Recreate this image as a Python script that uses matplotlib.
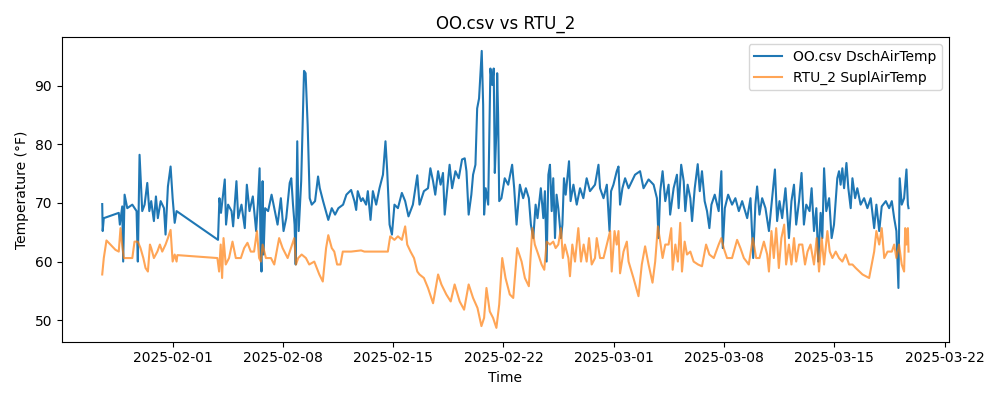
import numpy as np
import pandas as pd
import matplotlib
matplotlib.use("Agg")
import matplotlib.pyplot as plt

# days after 2025-02-01 00:00, temperature in F
base = pd.Timestamp("2025-02-01")

oo_day = [-4.47, -4.44, -4.37, -3.42, -3.35, -3.20, -3.14, -3.05, -2.88, -2.56,
          -2.29, -2.21, -2.10, -1.93, -1.78, -1.61, -1.48, -1.36, -1.19, -1.06,
          -0.94, -0.76, -0.55, -0.45, -0.30, -0.13, 0.00, 0.13, 0.25,
          2.88, 2.97, 3.07, 3.31, 3.39, 3.52, 3.74, 3.84, 4.05, 4.16,
          4.37, 4.58, 4.71, 4.88, 5.09, 5.30, 5.41, 5.52, 5.58, 5.64,
          5.71, 5.77, 5.87, 6.06, 6.28, 6.49, 6.66, 6.87, 7.04, 7.21,
          7.43, 7.53, 7.64, 7.74, 7.81, 7.91, 8.00, 8.16, 8.34, 8.44,
          8.57, 8.70, 8.83, 9.04, 9.23, 9.34, 9.55, 9.76, 9.88, 10.10,
          10.31, 10.52, 10.82, 11.03, 11.33, 11.54, 11.65, 11.75, 11.96,
          12.07, 12.28, 12.39, 12.56, 12.71, 12.92, 13.13, 13.35, 13.51, 13.62,
          13.77, 13.92, 14.08, 14.30, 14.55, 14.76, 14.97, 15.25, 15.53, 15.67,
          15.95, 16.21, 16.36, 16.53, 16.67, 16.85, 17.01, 17.16, 17.27, 17.48,
          17.58, 17.74, 17.95, 18.16, 18.37, 18.54, 18.65, 18.79, 18.96, 19.07,
          19.22, 19.33, 19.45, 19.56, 19.62, 19.71, 19.77, 19.87, 20.03, 20.17,
          20.28, 20.38, 20.45, 20.55, 20.60, 20.66, 20.73, 20.87, 21.08, 21.30,
          21.55, 21.68, 21.83, 22.04, 22.25, 22.42, 22.61, 22.74, 22.89, 23.04,
          23.16, 23.37, 23.53, 23.63, 23.74, 23.85, 23.95, 24.06, 24.16, 24.27,
          24.37, 24.48, 24.65, 24.74, 24.84, 24.95, 25.16, 25.26, 25.44, 25.65,
          25.86, 26.07, 26.28, 26.49, 26.81, 27.03, 27.13, 27.35, 27.56, 27.73,
          27.83, 27.98, 28.19, 28.30, 28.40, 28.55, 28.72, 28.94, 29.35, 29.67,
          29.89, 30.21, 30.53, 30.74, 30.84, 30.95, 31.10, 31.27, 31.48, 31.58,
          31.80, 32.01, 32.12, 32.28, 32.44, 32.54, 32.69, 32.86, 32.97, 33.14,
          33.33, 33.46, 33.60, 33.77, 33.92, 34.07, 34.20, 34.41, 34.66, 34.83,
          34.92, 35.05, 35.26, 35.51, 35.72, 35.94, 36.15, 36.47, 36.68, 36.85,
          36.99, 37.10, 37.25, 37.42, 37.63, 37.85, 38.01, 38.23, 38.37, 38.52,
          38.69, 38.90, 39.12, 39.28, 39.44, 39.58, 39.76, 39.92, 40.07, 40.22,
          40.43, 40.56, 40.71, 40.86, 40.98, 41.13, 41.24, 41.35, 41.49, 41.67,
          41.83, 41.98, 42.19, 42.30, 42.40, 42.51, 42.62, 42.77, 42.89, 43.04,
          43.15, 43.32, 43.46, 43.67, 43.89, 44.10, 44.31, 44.53, 44.67, 44.85,
          45.01, 45.27, 45.48, 45.65, 45.80, 45.94, 46.07, 46.15, 46.28, 46.43,
          46.58, 46.67, 46.71]
oo_temp = [69.8, 65.2, 67.4, 68.3, 66.3, 69.4, 60.0, 71.4, 69.1, 69.7,
           68.6, 60.0, 78.2, 68.6, 69.7, 73.4, 68.6, 70.3, 66.9, 71.1,
           67.4, 70.3, 69.1, 64.6, 72.8, 76.2, 70.8, 66.6, 68.6,
           63.7, 70.8, 68.3, 74.0, 66.3, 69.7, 68.6, 66.0, 73.7, 67.4,
           69.7, 65.7, 73.1, 68.6, 71.1, 65.2, 69.7, 75.9, 62.3, 58.3,
           73.7, 61.2, 69.1, 68.6, 71.4, 68.6, 66.3, 70.8, 65.2, 67.4,
           73.4, 74.2, 69.7, 66.3, 59.5, 80.5, 65.2, 73.7, 92.5, 92.1,
           83.3, 70.8, 69.7, 70.3, 74.5, 72.5, 70.3, 68.3, 67.1, 69.1,
           68.0, 69.1, 69.7, 71.4, 72.2, 70.3, 68.8, 72.0, 70.3,
           70.8, 69.7, 72.0, 67.1, 72.0, 69.7, 72.5, 74.8, 80.5, 75.4,
           66.3, 64.6, 69.7, 69.1, 71.7, 70.3, 67.7, 69.7, 74.7, 69.7,
           72.0, 72.5, 75.9, 73.7, 71.4, 75.4, 73.1, 75.1, 68.0, 73.7,
           76.5, 72.5, 75.4, 74.2, 77.4, 77.6, 75.4, 68.0, 71.4, 74.8,
           76.5, 86.1, 87.8, 92.9, 95.9, 86.7, 68.0, 72.5, 69.7, 92.9,
           90.1, 92.9, 75.1, 82.2, 92.1, 85.0, 70.3, 70.8, 74.2, 73.1,
           76.5, 72.5, 66.3, 73.1, 70.8, 72.5, 70.8, 66.3, 64.0, 69.7,
           67.4, 72.5, 67.4, 72.0, 60.0, 74.8, 76.5, 68.6, 74.2, 64.0,
           71.4, 69.1, 64.0, 66.3, 74.2, 71.4, 77.1, 70.3, 73.1, 69.7,
           72.5, 70.8, 74.2, 72.0, 73.1, 76.5, 72.5, 70.8, 73.1, 65.2,
           72.0, 73.1, 75.4, 76.2, 69.7, 72.5, 74.2, 72.5, 74.8, 75.4,
           72.5, 74.0, 73.1, 70.8, 64.0, 72.0, 75.4, 70.3, 73.1, 68.0,
           72.5, 74.8, 69.1, 76.5, 73.7, 68.6, 73.1, 70.8, 66.9, 72.5,
           76.6, 72.0, 75.4, 70.3, 68.6, 65.7, 69.7, 71.4, 68.6, 75.4,
           62.3, 69.1, 71.4, 69.7, 70.8, 68.6, 70.3, 67.4, 70.8, 60.6,
           69.7, 72.8, 68.0, 70.8, 69.1, 65.2, 69.7, 75.7, 66.9, 70.3,
           67.4, 72.5, 64.0, 70.3, 73.1, 66.3, 70.3, 75.1, 66.3, 69.7,
           68.6, 72.5, 65.2, 69.1, 60.0, 68.3, 64.0, 75.9, 68.6, 70.8,
           64.0, 66.3, 74.2, 75.4, 73.1, 75.9, 72.5, 76.8, 72.5, 69.1,
           74.2, 70.8, 72.5, 69.7, 70.8, 69.1, 70.8, 65.7, 69.7, 65.2,
           69.4, 70.3, 69.1, 70.3, 67.4, 65.2, 55.5, 74.2, 69.7, 70.8,
           75.7, 69.7, 69.1]

rtu_day = [-4.47, -4.37, -4.20, -3.95, -3.63, -3.42, -3.31, -3.23, -3.10, -2.88,
           -2.56, -2.42, -2.21, -2.04, -1.86, -1.72, -1.57, -1.44, -1.36, -1.19,
           -0.97, -0.81, -0.66, -0.45, -0.30, -0.13, 0.00, 0.13, 0.25, 0.30,
           2.84, 2.95, 3.05, 3.14, 3.23, 3.37, 3.58, 3.80, 4.01, 4.33,
           4.54, 4.75, 4.96, 5.17, 5.35, 5.49, 5.60, 5.71, 5.92, 6.24,
           6.45, 6.76, 6.98, 7.30, 7.51, 7.72, 7.83, 7.97, 8.19, 8.46,
           8.67, 8.99, 9.31, 9.53, 9.74, 9.88, 10.10, 10.26, 10.44, 10.65,
           10.80, 11.33, 11.96, 12.17, 13.66, 13.81, 14.08, 14.30, 14.55, 14.76,
           14.89, 15.10, 15.32, 15.53, 15.67, 15.95, 16.21, 16.53, 16.85, 17.06,
           17.37, 17.65, 17.90, 18.22, 18.50, 18.79, 19.07, 19.35, 19.60, 19.77,
           19.92, 20.13, 20.34, 20.55, 20.73, 20.92, 21.13, 21.40, 21.62, 21.87,
           22.15, 22.36, 22.61, 22.83, 22.99, 23.21, 23.42, 23.59, 23.74, 23.95,
           24.16, 24.31, 24.48, 24.65, 24.77, 24.90, 25.12, 25.22, 25.37, 25.54,
           25.75, 25.92, 26.09, 26.28, 26.43, 26.60, 26.81, 26.92, 27.13, 27.35,
           27.56, 27.77, 27.87, 28.05, 28.19, 28.30, 28.40, 28.62, 28.83, 28.94,
           29.25, 29.57, 29.78, 29.99, 30.21, 30.46, 30.63, 30.80, 30.95, 31.10,
           31.27, 31.48, 31.65, 31.74, 31.91, 32.07, 32.22, 32.33, 32.50, 32.65,
           32.86, 33.07, 33.35, 33.60, 33.86, 34.07, 34.35, 34.66, 34.83, 34.98,
           35.19, 35.51, 35.83, 36.04, 36.26, 36.57, 36.83, 37.04, 37.25, 37.53,
           37.74, 37.85, 38.01, 38.16, 38.31, 38.48, 38.64, 38.82, 38.94, 39.12,
           39.28, 39.44, 39.58, 39.76, 39.97, 40.14, 40.30, 40.49, 40.71, 40.88,
           41.03, 41.20, 41.35, 41.56, 41.71, 41.88, 42.09, 42.30, 42.51, 42.72,
           42.94, 43.15, 43.36, 43.79, 44.21, 44.53, 44.67, 44.85, 45.01, 45.17,
           45.38, 45.65, 45.80, 45.94, 46.11, 46.28, 46.43, 46.50, 46.58, 46.67,
           46.71]
rtu_temp = [57.8, 60.6, 63.6, 62.9, 62.0, 61.7, 65.7, 63.4, 60.6, 60.6,
            60.6, 63.4, 63.4, 62.3, 60.6, 58.9, 58.3, 62.9, 62.3, 60.6,
            61.7, 62.9, 61.7, 62.9, 64.0, 65.4, 60.0, 61.2, 60.0, 61.1,
            60.6, 58.3, 62.9, 57.2, 64.0, 59.5, 60.6, 63.4, 60.6, 60.6,
            62.3, 63.2, 61.7, 61.7, 65.2, 60.6, 60.0, 62.9, 60.6, 60.6,
            59.5, 64.0, 62.3, 60.6, 62.3, 64.0, 59.5, 60.6, 61.2, 60.6,
            59.5, 60.0, 57.8, 56.6, 62.3, 64.5, 62.3, 61.7, 59.5, 59.5,
            61.7, 61.7, 61.9, 61.7, 61.7, 64.3, 63.7, 64.3, 63.7, 66.0,
            62.9, 61.7, 60.6, 58.3, 57.8, 57.2, 55.5, 52.9, 57.8, 56.1,
            54.4, 53.2, 56.1, 53.2, 51.8, 56.1, 53.8, 52.1, 49.0, 50.4,
            55.5, 51.5, 50.4, 48.7, 52.7, 60.6, 57.2, 54.4, 53.8, 62.3,
            60.0, 57.2, 55.8, 65.7, 62.9, 61.2, 59.5, 58.6, 63.4, 62.9,
            63.4, 62.3, 62.9, 65.7, 60.6, 62.9, 60.6, 57.5, 62.9, 60.0,
            65.7, 60.0, 62.9, 60.0, 64.0, 59.5, 60.6, 64.0, 60.6, 60.6,
            62.9, 65.2, 58.3, 65.2, 62.9, 65.2, 58.0, 61.7, 63.4, 60.0,
            57.2, 54.1, 59.5, 62.6, 59.5, 56.4, 60.0, 66.0, 63.4, 60.6,
            62.9, 62.9, 65.7, 58.6, 62.9, 60.0, 66.6, 58.3, 63.4, 61.2,
            61.7, 60.0, 59.5, 59.2, 62.9, 61.2, 60.6, 62.9, 64.0, 62.3,
            60.6, 60.6, 63.7, 62.3, 60.6, 59.5, 64.0, 60.6, 60.6, 63.4,
            61.2, 58.3, 65.2, 60.6, 65.7, 58.9, 64.0, 66.3, 59.5, 62.9,
            59.5, 64.0, 60.0, 62.9, 62.9, 59.5, 61.7, 62.9, 59.5, 64.0,
            58.3, 64.0, 59.5, 65.2, 61.7, 60.6, 61.7, 60.6, 60.0, 61.2,
            59.5, 59.5, 58.9, 57.8, 57.2, 61.7, 65.2, 62.9, 65.7, 60.6,
            61.7, 61.7, 62.9, 60.6, 62.9, 59.5, 58.3, 65.7, 62.9, 65.7,
            61.7]

oo_time = base + pd.to_timedelta(oo_day, unit="D")
rtu_time = base + pd.to_timedelta(rtu_day, unit="D")

fig, ax = plt.subplots(figsize=(10, 4), dpi=100)
ax.plot(oo_time, oo_temp, color="#1f77b4", label="OO.csv DschAirTemp")
ax.plot(rtu_time, rtu_temp, color="#ff7f0e", alpha=0.7, label="RTU_2 SuplAirTemp")
ax.set_title("OO.csv vs RTU_2")
ax.set_xlabel("Time")
ax.set_ylabel("Temperature (°F)")
ax.legend(loc="upper right")
fig.tight_layout()
fig.savefig("out.png")
